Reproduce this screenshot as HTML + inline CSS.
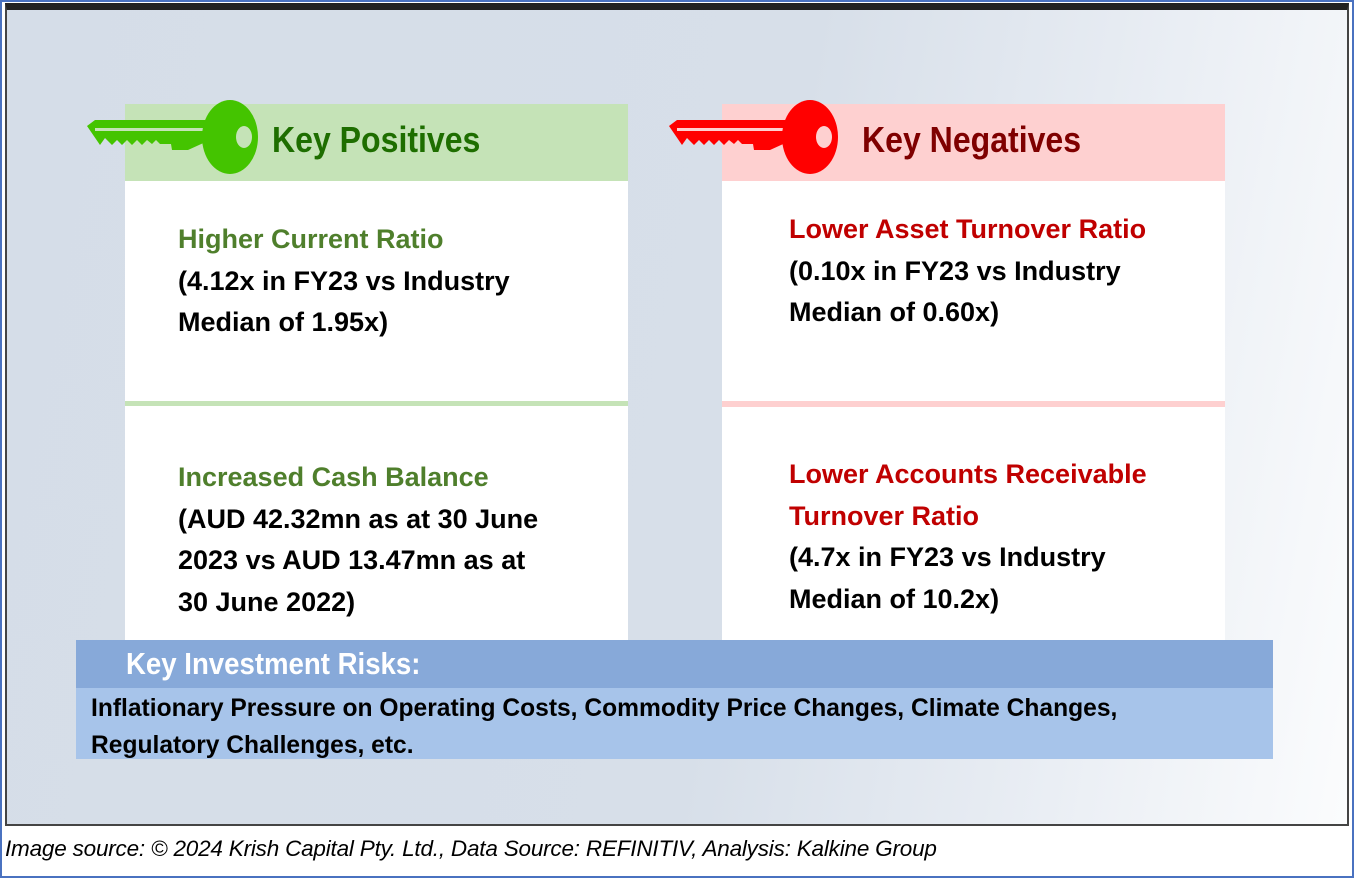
<!DOCTYPE html>
<html><head><meta charset="utf-8"><style>
*{margin:0;padding:0;box-sizing:border-box}
body{width:1354px;height:878px;position:relative;background:#fff;font-family:"Liberation Sans",sans-serif;overflow:hidden}
.abs{position:absolute}
.txt{position:absolute;font-weight:bold;font-size:27px;line-height:41.5px;color:#000;white-space:nowrap;letter-spacing:0px}
.g{color:#4f7f2c}.r{color:#c00000}
.hd{position:absolute;font-family:"Liberation Sans",sans-serif;font-weight:bold;font-size:36px;line-height:40px;white-space:nowrap;transform-origin:0 50%;transform:scaleX(0.89)}
</style></head><body>
<div class="abs" style="left:0;top:0;width:1354px;height:878px;border:2px solid #4a72c0"></div>
<div class="abs" style="left:5px;top:3px;width:1344px;height:823px;border:2px solid #444;border-top:7px solid #222;background:linear-gradient(100deg,#d5dde8 0%,#d7dfe9 55%,#e6ebf2 75%,#fbfcfd 100%)"></div>

<!-- Positives -->
<div class="abs" style="left:125px;top:104px;width:503px;height:77px;background:#c5e3b7"></div>
<div class="abs" style="left:125px;top:181px;width:503px;height:459px;background:#fff"></div>
<div class="abs" style="left:125px;top:401px;width:503px;height:5px;background:#c5e3b7"></div>
<svg class="abs" style="left:60px;top:98px" width="210" height="80" viewBox="0 0 210 80">
<path d="M27 28 L35 22 L150 22 L150 42 L128 52 L112 52 L111 46 L100 46 L96 42 L92 46 L87 42 L82 47 L77 42 L72 47 L67 42 L62 47 L57 42 L52 47 L45 40 L40 47 Z" fill="#44c400"/>
<rect x="35" y="30" width="118" height="3" fill="#c5e3b7"/>
<ellipse cx="170" cy="39" rx="28" ry="37" fill="#44c400"/>
<ellipse cx="184" cy="39" rx="8" ry="11" fill="#c5e3b7"/>
</svg>
<div class="hd" style="left:272px;top:120px;color:#1e6e00">Key Positives</div>
<div class="txt" style="left:178px;top:219px"><span class="g">Higher Current Ratio</span><br>(4.12x in FY23 vs Industry<br>Median of 1.95x)</div>
<div class="txt" style="left:178px;top:457px"><span class="g">Increased Cash Balance</span><br>(AUD 42.32mn as at 30 June<br>2023 vs AUD 13.47mn as at<br>30 June 2022)</div>

<!-- Negatives -->
<div class="abs" style="left:722px;top:104px;width:503px;height:77px;background:#fed0d0"></div>
<div class="abs" style="left:722px;top:181px;width:503px;height:459px;background:#fff"></div>
<div class="abs" style="left:722px;top:401px;width:503px;height:6px;background:#fed0d0"></div>
<svg class="abs" style="left:642px;top:98px" width="210" height="80" viewBox="0 0 210 80">
<path d="M27 28 L35 22 L150 22 L150 42 L128 52 L112 52 L111 46 L100 46 L96 42 L92 46 L87 42 L82 47 L77 42 L72 47 L67 42 L62 47 L57 42 L52 47 L45 40 L40 47 Z" fill="#f00"/>
<rect x="35" y="30" width="118" height="3" fill="#fed0d0"/>
<ellipse cx="168" cy="39" rx="28" ry="37" fill="#f00"/>
<ellipse cx="182" cy="39" rx="8" ry="11" fill="#fed0d0"/>
</svg>
<div class="hd" style="left:862px;top:120px;color:#7f0000">Key Negatives</div>
<div class="txt" style="left:789px;top:209px"><span class="r">Lower Asset Turnover Ratio</span><br>(0.10x in FY23 vs Industry<br>Median of 0.60x)</div>
<div class="txt" style="left:789px;top:454px"><span class="r">Lower Accounts Receivable<br>Turnover Ratio</span><br>(4.7x in FY23 vs Industry<br>Median of 10.2x)</div>

<!-- Risks -->
<div class="abs" style="left:76px;top:640px;width:1197px;height:48px;background:#87a9d9"></div>
<div class="abs" style="left:76px;top:688px;width:1197px;height:71px;background:#a7c4ea"></div>
<div class="hd" style="left:126px;top:646px;color:#fff;font-size:31px;line-height:36px">Key Investment Risks:</div>
<div class="txt" style="left:91px;top:690px;font-size:24.6px;line-height:37px">Inflationary Pressure on Operating Costs, Commodity Price Changes, Climate Changes,<br>Regulatory Challenges, etc.</div>

<div class="abs" style="left:5px;top:836px;font-style:italic;font-size:22.5px;line-height:26px;white-space:nowrap;letter-spacing:-0.2px">Image source: © 2024 Krish Capital Pty. Ltd., Data Source: REFINITIV, Analysis: Kalkine Group</div>
</body></html>
